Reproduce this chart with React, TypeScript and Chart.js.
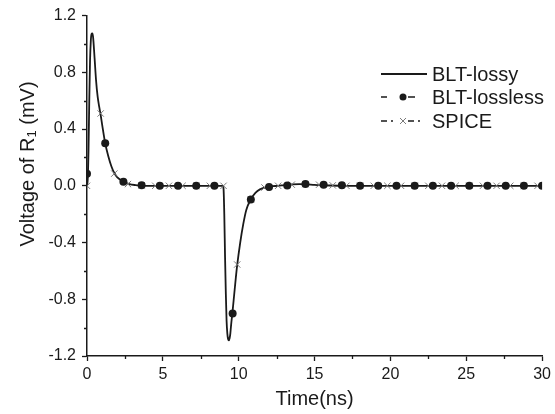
import React, { useEffect, useRef } from "react";
import { Chart, registerables } from "chart.js";

Chart.register(...registerables);

// BLT-lossy (continuous curve), time in ns, voltage in mV
const lossyT = [0, 0.05, 0.1, 0.15, 0.2, 0.25, 0.3, 0.35, 0.4, 0.5, 0.6, 0.7, 0.8, 0.9, 1.0, 1.2, 1.4, 1.6, 1.8, 2.0, 2.4, 2.8, 3.2, 3.6, 4.0, 5, 6, 7, 8, 8.95, 9.0, 9.05, 9.1, 9.15, 9.2, 9.25, 9.3, 9.35, 9.4, 9.45, 9.5, 9.6, 9.7, 9.8, 9.9, 10.1, 10.3, 10.5, 10.8, 11.1, 11.4, 11.8, 12.2, 12.6, 13, 13.5, 14, 14.5, 15, 16, 17, 18, 20, 22, 24, 26, 28, 30];
const lossyV = [0, 0.05, 0.25, 0.6, 0.88, 1.02, 1.07, 1.075, 1.05, 0.9, 0.74, 0.63, 0.56, 0.5, 0.43, 0.3, 0.21, 0.14, 0.09, 0.06, 0.03, 0.012, 0.005, 0.002, 0, 0, 0, 0, 0, 0, -0.02, -0.2, -0.5, -0.75, -0.95, -1.04, -1.08, -1.09, -1.075, -1.04, -0.98, -0.88, -0.77, -0.66, -0.56, -0.4, -0.27, -0.17, -0.095, -0.05, -0.025, -0.01, -0.003, 0, 0.005, 0.01, 0.012, 0.01, 0.006, 0.002, 0, 0, 0, 0, 0, 0, 0, 0];

// BLT-lossless markers
const losslessT = [0, 1.2, 2.4, 3.6, 4.8, 6.0, 7.2, 8.4, 9.6, 10.8, 12.0, 13.2, 14.4, 15.6, 16.8, 18.0, 19.2, 20.4, 21.6, 22.8, 24.0, 25.2, 26.4, 27.6, 28.8, 30.0];
const losslessV = [0.085, 0.3, 0.028, 0.004, 0, 0, 0, 0, -0.9, -0.097, -0.008, 0.002, 0.012, 0.008, 0.003, 0, 0, 0, 0, 0, 0, 0, 0, 0, 0, 0];

// SPICE markers
const spiceT = [0, 0.9, 1.8, 2.7, 3.6, 4.5, 5.4, 6.3, 7.2, 8.1, 9.0, 9.9, 10.8, 11.7, 12.6, 13.5, 14.4, 15.3, 16.2, 17.1, 18.0, 18.9, 19.8, 20.7, 21.6, 22.5, 23.4, 24.3, 25.2, 26.1, 27.0, 27.9, 28.8, 29.7];
const spiceV = [0, 0.51, 0.086, 0.012, 0.003, 0, 0, 0, 0, 0, 0, -0.555, -0.095, -0.012, 0, 0.008, 0.012, 0.008, 0.003, 0, 0, 0, 0, 0, 0, 0, 0, 0, 0, 0, 0, 0, 0, 0];

const xTicks = [0, 5, 10, 15, 20, 25, 30];
const yTicks = [-1.2, -0.8, -0.4, 0.0, 0.4, 0.8, 1.2];
const xMinor = [2.5, 7.5, 12.5, 17.5, 22.5, 27.5];
const yMinor = [-1.0, -0.6, -0.2, 0.2, 0.6, 1.0];

const seriesNames = ["BLT-lossy", "BLT-lossless", "SPICE"];
const xTitle = "Time(ns)";
const yTitleParts = ["Voltage of R", "1", " (mV)"];

const FONT = "'Liberation Sans', Arial, Helvetica, sans-serif";
const INK = "#1a1a1a";
const CROSS = "#7a7a7a";

const toXY = (t: number[], v: number[]) => t.map((x, i) => ({ x, y: v[i] }));

const decorPlugin = {
  id: "decor",
  afterDraw(chart: any) {
    const ctx = chart.ctx;
    const xs = chart.scales.x;
    const ys = chart.scales.y;
    const area = chart.chartArea;
    ctx.save();
    // minor ticks
    ctx.strokeStyle = INK;
    ctx.lineWidth = 1.3;
    ctx.beginPath();
    xMinor.forEach((v) => {
      const px = Math.round(xs.getPixelForValue(v)) + 0.5;
      ctx.moveTo(px, area.bottom);
      ctx.lineTo(px, area.bottom + 3);
    });
    yMinor.forEach((v) => {
      const py = Math.round(ys.getPixelForValue(v)) + 0.5;
      ctx.moveTo(area.left, py);
      ctx.lineTo(area.left - 3, py);
    });
    ctx.stroke();

    // y title with subscript
    ctx.save();
    ctx.translate(28, 164);
    ctx.rotate(-Math.PI / 2);
    ctx.fillStyle = INK;
    ctx.textBaseline = "middle";
    ctx.textAlign = "left";
    const mainFont = `20px ${FONT}`;
    const subFont = `13px ${FONT}`;
    ctx.font = mainFont;
    const w0 = ctx.measureText(yTitleParts[0]).width;
    const w2 = ctx.measureText(yTitleParts[2]).width;
    ctx.font = subFont;
    const w1 = ctx.measureText(yTitleParts[1]).width;
    const total = w0 + w1 + w2;
    let cx = -total / 2;
    ctx.font = mainFont;
    ctx.fillText(yTitleParts[0], cx, 0);
    cx += w0;
    ctx.font = subFont;
    ctx.fillText(yTitleParts[1], cx, 4);
    cx += w1;
    ctx.font = mainFont;
    ctx.fillText(yTitleParts[2], cx, 0);
    ctx.restore();

    // legend
    const tx = 432;
    const rows = [74, 97, 121];
    ctx.font = `20px ${FONT}`;
    ctx.fillStyle = INK;
    ctx.textBaseline = "middle";
    ctx.textAlign = "left";
    seriesNames.forEach((n, i) => ctx.fillText(n, tx, rows[i] + 1));

    ctx.strokeStyle = INK;
    // row 1 solid
    ctx.lineWidth = 1.8;
    ctx.beginPath();
    ctx.moveTo(381, rows[0]);
    ctx.lineTo(427, rows[0]);
    ctx.stroke();
    // row 2 dash dot dash
    ctx.lineWidth = 1.6;
    ctx.beginPath();
    ctx.moveTo(381, rows[1]);
    ctx.lineTo(387, rows[1]);
    ctx.moveTo(408, rows[1]);
    ctx.lineTo(415, rows[1]);
    ctx.stroke();
    ctx.beginPath();
    ctx.arc(403, rows[1], 3.5, 0, Math.PI * 2);
    ctx.fill();
    // row 3 dash-dot with cross
    ctx.lineWidth = 1.3;
    ctx.beginPath();
    ctx.moveTo(381, rows[2]);
    ctx.lineTo(387, rows[2]);
    ctx.moveTo(408, rows[2]);
    ctx.lineTo(414, rows[2]);
    ctx.stroke();
    ctx.beginPath();
    ctx.arc(392, rows[2], 1, 0, Math.PI * 2);
    ctx.arc(419, rows[2], 1, 0, Math.PI * 2);
    ctx.fill();
    ctx.strokeStyle = CROSS;
    ctx.lineWidth = 1;
    ctx.beginPath();
    ctx.moveTo(400, rows[2] - 3);
    ctx.lineTo(406, rows[2] + 3);
    ctx.moveTo(406, rows[2] - 3);
    ctx.lineTo(400, rows[2] + 3);
    ctx.stroke();
    ctx.restore();
  },
};

export default function App() {
  const ref = useRef<HTMLCanvasElement | null>(null);
  useEffect(() => {
    if (!ref.current) return;
    const chart = new Chart(ref.current, {
      type: "scatter",
      data: {
        datasets: [
          {
            label: seriesNames[1],
            data: toXY(losslessT, losslessV),
            showLine: false,
            pointStyle: "circle",
            pointRadius: 4,
            pointBackgroundColor: INK,
            pointBorderColor: INK,
            pointBorderWidth: 0,
          },
          {
            label: seriesNames[2],
            data: toXY(spiceT, spiceV),
            showLine: false,
            pointStyle: "crossRot",
            pointRadius: 4.5,
            pointBorderColor: CROSS,
            pointBorderWidth: 1,
          },
          {
            label: seriesNames[0],
            data: toXY(lossyT, lossyV),
            showLine: true,
            borderColor: INK,
            borderWidth: 1.8,
            pointRadius: 0,
            cubicInterpolationMode: "monotone",
          },
        ],
      } as any,
      options: {
        responsive: false,
        animation: false,
        layout: { padding: { top: 15, right: 12, left: 0, bottom: 0 } },
        plugins: { legend: { display: false }, tooltip: { enabled: false } },
        scales: {
          x: {
            type: "linear",
            min: 0,
            max: 30,
            afterFit: (s: any) => {
              s.height = 58;
            },
            afterBuildTicks: (s: any) => {
              s.ticks = xTicks.map((value) => ({ value }));
            },
            ticks: {
              font: { size: 16, family: FONT },
              color: INK,
              padding: 4,
              maxRotation: 0,
              callback: (v: any) => String(v),
            },
            grid: { drawOnChartArea: false, tickLength: 5, color: INK, tickWidth: 1.3 },
            border: { color: INK, width: 1.5 },
            title: {
              display: true,
              text: xTitle,
              font: { size: 20, family: FONT },
              color: INK,
              padding: { top: 0, bottom: 3 },
            },
          },
          y: {
            type: "linear",
            min: -1.2,
            max: 1.2,
            afterFit: (s: any) => {
              s.width = 87;
            },
            afterBuildTicks: (s: any) => {
              s.ticks = yTicks.map((value) => ({ value }));
            },
            ticks: {
              font: { size: 16, family: FONT },
              color: INK,
              padding: 6,
              callback: (v: any) => (Math.abs(v) < 1e-9 ? 0 : Number(v)).toFixed(1),
            },
            grid: { drawOnChartArea: false, tickLength: 5, color: INK, tickWidth: 1.3 },
            border: { color: INK, width: 1.5 },
          },
        },
      } as any,
      plugins: [decorPlugin],
    });
    return () => chart.destroy();
  }, []);
  return (
    <div style={{ position: "fixed", left: 0, top: 0, width: 555, height: 414, background: "#fff" }}>
      <canvas ref={ref} width={555} height={414} />
    </div>
  );
}
